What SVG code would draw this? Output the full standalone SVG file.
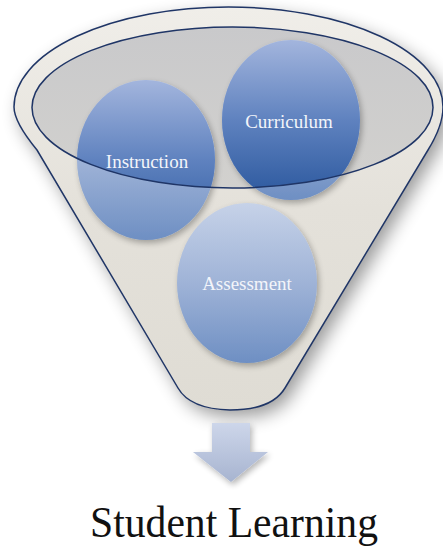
<svg xmlns="http://www.w3.org/2000/svg" width="443" height="550" viewBox="0 0 443 550">
  <defs>
    <style>
      .lbl { font-family: "Liberation Serif", "Times New Roman", serif; font-size: 19px; fill: #f3f5fa; text-anchor: middle; }
      .title { font-family: "Liberation Serif", "Times New Roman", serif; font-size: 44px; fill: #111111; }
      .edge { fill: none; stroke: #1f3566; stroke-width: 1.5; }
    </style>
    <filter id="shadow" x="-20%" y="-20%" width="140%" height="140%">
      <feGaussianBlur in="SourceAlpha" stdDeviation="9"/>
      <feOffset dx="6" dy="7" result="b"/>
      <feComponentTransfer><feFuncA type="linear" slope="0.4"/></feComponentTransfer>
      <feMerge><feMergeNode/><feMergeNode in="SourceGraphic"/></feMerge>
    </filter>
    <filter id="soft" x="-20%" y="-20%" width="140%" height="140%">
      <feGaussianBlur in="SourceAlpha" stdDeviation="3"/>
      <feOffset dx="2" dy="3"/>
      <feComponentTransfer><feFuncA type="linear" slope="0.3"/></feComponentTransfer>
      <feMerge><feMergeNode/><feMergeNode in="SourceGraphic"/></feMerge>
    </filter>
    <linearGradient id="body" x1="0" y1="0" x2="0" y2="1">
      <stop offset="0" stop-color="#f0eee9"/>
      <stop offset="0.5" stop-color="#e4e1da"/>
      <stop offset="1" stop-color="#dfdcd4"/>
    </linearGradient>
    <linearGradient id="inner" x1="0" y1="0" x2="0" y2="1">
      <stop offset="0" stop-color="#c9c9cb"/>
      <stop offset="1" stop-color="#d2d1ce"/>
    </linearGradient>
    <linearGradient id="light" x1="0" y1="0" x2="0" y2="1">
      <stop offset="0" stop-color="#c6d2e8"/>
      <stop offset="0.5" stop-color="#9fb3d7"/>
      <stop offset="1" stop-color="#6e8fc3"/>
    </linearGradient>
    <linearGradient id="dark" x1="0" y1="0" x2="0" y2="1">
      <stop offset="0" stop-color="#a3b5dd"/>
      <stop offset="0.5" stop-color="#5f82bf"/>
      <stop offset="1" stop-color="#2a579d"/>
    </linearGradient>
    <linearGradient id="arrowFill" x1="0" y1="0" x2="0" y2="1">
      <stop offset="0" stop-color="#cdd6ea"/>
      <stop offset="1" stop-color="#a7b4d0"/>
    </linearGradient>
    <clipPath id="innerClip">
      <ellipse cx="232.5" cy="107.5" rx="200.5" ry="80.5"/>
    </clipPath>
  </defs>

  <rect width="443" height="550" fill="#ffffff"/>

  <g id="funnel">
    <path d="M 14,107 A 214.5,100 0 0 1 443,107 Q 443,126 428,150 L 285,388 Q 272,410 230,410 Q 190,409 178,388 L 37,150 Q 14,122 14,107 Z" fill="url(#body)" filter="url(#shadow)"/>
    <path class="edge" d="M 14,107 A 214.5,100 0 0 1 443,107 Q 443,126 428,150 L 285,388 Q 272,410 230,410 Q 190,409 178,388 L 37,150 Q 14,122 14,107 Z"/>
    <ellipse cx="232.5" cy="107.5" rx="200.5" ry="80.5" fill="url(#inner)"/>
  </g>

  <g id="instruction">
    <ellipse cx="146" cy="160" rx="69" ry="80" fill="url(#light)" filter="url(#soft)"/>
    <ellipse cx="146" cy="160" rx="69" ry="80" fill="url(#dark)" clip-path="url(#innerClip)"/>
    <text class="lbl" x="147" y="168">Instruction</text>
  </g>

  <g id="curriculum">
    <ellipse cx="291" cy="120" rx="69" ry="80" fill="url(#light)" filter="url(#soft)"/>
    <ellipse cx="291" cy="120" rx="69" ry="80" fill="url(#dark)" clip-path="url(#innerClip)"/>
    <text class="lbl" x="289" y="128">Curriculum</text>
  </g>

  <g id="assessment">
    <ellipse cx="247" cy="283" rx="70" ry="80" fill="url(#light)" filter="url(#soft)"/>
    <text class="lbl" x="247" y="290">Assessment</text>
  </g>

  <g id="rim">
    <ellipse class="edge" cx="232.5" cy="107.5" rx="200.5" ry="80.5"/>
  </g>

  <g id="connectors">
    <path d="M 212,423 H 250 V 452 H 268 L 231,482 L 193,452 H 212 Z" fill="url(#arrowFill)" filter="url(#soft)"/>
  </g>

  <g id="result">
    <text class="title" x="90" y="537" textLength="288" lengthAdjust="spacingAndGlyphs">Student Learning</text>
  </g>
</svg>
